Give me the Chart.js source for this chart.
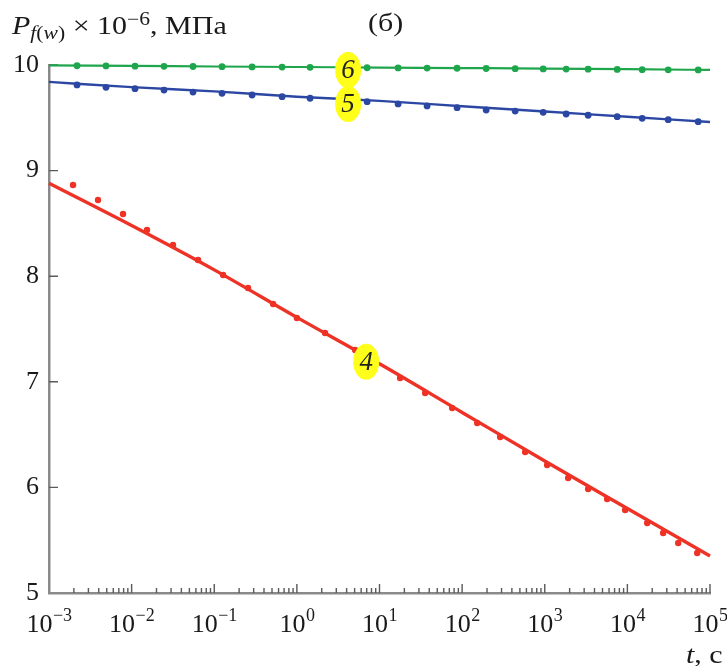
<!DOCTYPE html>
<html><head><meta charset="utf-8">
<script src="https://cdn.jsdelivr.net/npm/chart.js@4"></script>
<style>
html,body{margin:0;padding:0;background:#fff;}
#wrap{position:relative;width:727px;height:666px;overflow:hidden;}
canvas{position:absolute;left:0;top:0;}
.lbl{position:absolute;font-family:"Liberation Serif","Times New Roman",serif;color:#1a1a1a;font-size:25px;white-space:nowrap;line-height:1;transform:scaleX(1.2);transform-origin:0 0;}
.lbl sub{font-size:18px;vertical-align:-5px;}
.lbl sup{font-size:18px;vertical-align:9px;}
</style></head><body>
<div id="wrap">
<canvas id="c" width="727" height="666"></canvas>
<div class="lbl" style="left:12px;top:10px"><i>P</i><sub><i>f</i>(<i>w</i>)</sub> × 10<sup>−6</sup>, МПа</div>
<div class="lbl" style="left:368px;top:10px">(б)</div>
<div class="lbl" style="left:686px;top:642px"><i>t</i>, с</div>
</div>
<script>
// ---- data ----
const lineTimes = [1e-3, 1e-2, 1e-1, 1e0, 1e1, 1e2, 1e3, 1e4, 1e5];
const line6 = [9.996, 9.991, 9.986, 9.981, 9.976, 9.971, 9.966, 9.960, 9.953];
const line5 = [9.84, 9.79, 9.75, 9.70, 9.66, 9.61, 9.56, 9.51, 9.46];
const line4 = [8.88, 8.48, 8.06, 7.61, 7.17, 6.71, 6.25, 5.80, 5.35];

const dotTimes56 = [0.002183, 0.004898, 0.01099, 0.02466, 0.05534, 0.1242, 0.2871, 0.6622, 1.445, 7.079, 16.79, 37.67, 86.90, 195.4, 438.5, 957.2, 1816, 3350, 7534, 15100, 31190, 71940];
const dots6 = [9.993, 9.991, 9.989, 9.987, 9.986, 9.984, 9.982, 9.980, 9.978, 9.974, 9.972, 9.971, 9.969, 9.967, 9.965, 9.963, 9.961, 9.960, 9.958, 9.956, 9.954, 9.953];
const dots5 = [9.811, 9.789, 9.776, 9.763, 9.744, 9.732, 9.716, 9.700, 9.685, 9.653, 9.631, 9.612, 9.596, 9.574, 9.564, 9.552, 9.536, 9.524, 9.511, 9.495, 9.482, 9.463];

const dotTimes4 = [0.001954, 0.003917, 0.007870, 0.01535, 0.03170, 0.06368, 0.1279, 0.2564, 0.5152, 1.000, 2.193, 5.070, 17.74, 35.65, 75.68, 152.1, 288.4, 579.4, 1069, 1919, 3350, 5689, 9397, 17380, 27100, 41210, 69980];
const dots4 = [8.864, 8.722, 8.589, 8.438, 8.295, 8.153, 8.011, 7.888, 7.737, 7.604, 7.462, 7.301, 7.036, 6.894, 6.752, 6.610, 6.477, 6.335, 6.212, 6.089, 5.985, 5.890, 5.786, 5.663, 5.568, 5.473, 5.379];

const xTickExps = [-3, -2, -1, 0, 1, 2, 3, 4, 5];
const xTickBase = '10';
const yTicks = [5, 6, 7, 8, 9, 10];
const curveLabels = ['6', '5', '4'];
const curveLabelT = [4.17, 4.17, 6.9];
const curveLabelV = [9.953, 9.631, 7.19];

// ---- helpers ----
function pts(xs, ys){ return xs.map((x,i)=>({x:x, y:ys[i]})); }
function expText(e){ return (e < 0 ? '\u2212' : '') + Math.abs(e); }

const RED = '#ee3226', BLUE = '#2b47a3', GREEN = '#1fa64c';
const FONT = '"Liberation Serif","Times New Roman",serif';

const innerTicks = {
  id: 'innerTicks',
  beforeDatasetsDraw(chart){
    const ctx = chart.ctx, xs = chart.scales.x, ys = chart.scales.y;
    const bottom = chart.chartArea.bottom, left = chart.chartArea.left;
    ctx.save();
    ctx.strokeStyle = '#5a5a5a';
    ctx.lineWidth = 1.4;
    ctx.beginPath();
    for (let e = -3; e <= 4; e++) {
      for (let m = 2; m <= 9; m++) {
        const px = xs.getPixelForValue(m * Math.pow(10, e));
        ctx.moveTo(px, bottom); ctx.lineTo(px, bottom - 5);
      }
    }
    xTickExps.slice(1).forEach(e => {
      const px = xs.getPixelForValue(Math.pow(10, e));
      ctx.moveTo(px, bottom); ctx.lineTo(px, bottom - 9);
    });
    yTicks.slice(1).forEach(v => {
      const py = ys.getPixelForValue(v);
      ctx.moveTo(left, py); ctx.lineTo(left + 9, py);
    });
    ctx.stroke();
    ctx.restore();
  }
};

// power-of-ten tick labels with a real raised exponent
const powerLabels = {
  id: 'powerLabels',
  afterDraw(chart){
    const ctx = chart.ctx, xs = chart.scales.x;
    const baseY = chart.chartArea.bottom + 39;
    ctx.save();
    ctx.fillStyle = '#1a1a1a';
    ctx.textBaseline = 'alphabetic';
    ctx.textAlign = 'left';
    xTickExps.forEach(e => {
      const px = xs.getPixelForValue(Math.pow(10, e));
      const ex = expText(e);
      ctx.font = '26px ' + FONT;
      const w1 = ctx.measureText(xTickBase).width;
      ctx.font = '18px ' + FONT;
      const w2 = ctx.measureText(ex).width;
      const x0 = px - (w1 + w2) / 2;
      ctx.font = '26px ' + FONT;
      ctx.fillText(xTickBase, x0, baseY);
      ctx.font = '18px ' + FONT;
      ctx.fillText(ex, x0 + w1 + 0.5, baseY - 11);
    });
    ctx.restore();
  }
};

const bubbleLabels = {
  id: 'bubbleLabels',
  afterDatasetsDraw(chart){
    const ctx = chart.ctx, xs = chart.scales.x, ys = chart.scales.y;
    ctx.save();
    curveLabels.forEach((txt, i) => {
      const px = xs.getPixelForValue(curveLabelT[i]);
      const py = ys.getPixelForValue(curveLabelV[i]);
      ctx.fillStyle = '#ffff1a';
      ctx.beginPath();
      ctx.ellipse(px, py, 13, 18, 0, 0, Math.PI * 2);
      ctx.fill();
      ctx.fillStyle = '#222';
      ctx.font = 'italic 27px ' + FONT;
      ctx.textAlign = 'center';
      ctx.textBaseline = 'middle';
      ctx.fillText(txt, px, py + 1);
    });
    ctx.restore();
  }
};

new Chart(document.getElementById('c'), {
  type: 'scatter',
  data: {
    datasets: [
      {data: pts(lineTimes, line6), showLine: true, borderColor: GREEN, borderWidth: 2.2, pointRadius: 0, cubicInterpolationMode: 'monotone', clip: false},
      {data: pts(lineTimes, line5), showLine: true, borderColor: BLUE, borderWidth: 2.4, pointRadius: 0, cubicInterpolationMode: 'monotone', clip: false},
      {data: pts(lineTimes, line4), showLine: true, borderColor: RED, borderWidth: 3.4, pointRadius: 0, cubicInterpolationMode: 'monotone', clip: false},
      {data: pts(dotTimes56, dots6), showLine: false, backgroundColor: GREEN, borderWidth: 0, pointRadius: 3.4, clip: false},
      {data: pts(dotTimes56, dots5), showLine: false, backgroundColor: BLUE, borderWidth: 0, pointRadius: 3.4, clip: false},
      {data: pts(dotTimes4, dots4), showLine: false, backgroundColor: RED, borderWidth: 0, pointRadius: 3.2, clip: false}
    ]
  },
  options: {
    responsive: false,
    animation: false,
    devicePixelRatio: 1,
    layout: {padding: {left: 0, right: 17, top: 65, bottom: 0}, autoPadding: false},
    plugins: {legend: {display: false}, tooltip: {enabled: false}, title: {display: false}},
    scales: {
      x: {
        type: 'logarithmic',
        min: 1e-3, max: 1e5,
        afterBuildTicks: s => { s.ticks = xTickExps.map(e => ({value: Math.pow(10, e)})); },
        afterFit: s => { s.height = 73; s.paddingLeft = 0; s.paddingRight = 0; },
        grid: {display: false, drawTicks: false},
        border: {display: true, color: '#8a8a8a', width: 2.5},
        ticks: {display: false, autoSkip: false}
      },
      y: {
        min: 5, max: 10,
        afterBuildTicks: s => { s.ticks = yTicks.map(v => ({value: v})); },
        afterFit: s => { s.width = 49; s.paddingTop = 0; s.paddingBottom = 0; },
        grid: {display: false, drawTicks: false},
        border: {display: true, color: '#8a8a8a', width: 2.5},
        ticks: {
          padding: 10,
          color: '#1a1a1a',
          font: {family: FONT, size: 26},
          callback: v => String(v)
        }
      }
    }
  },
  plugins: [innerTicks, bubbleLabels, powerLabels]
});
</script>
</body></html>
